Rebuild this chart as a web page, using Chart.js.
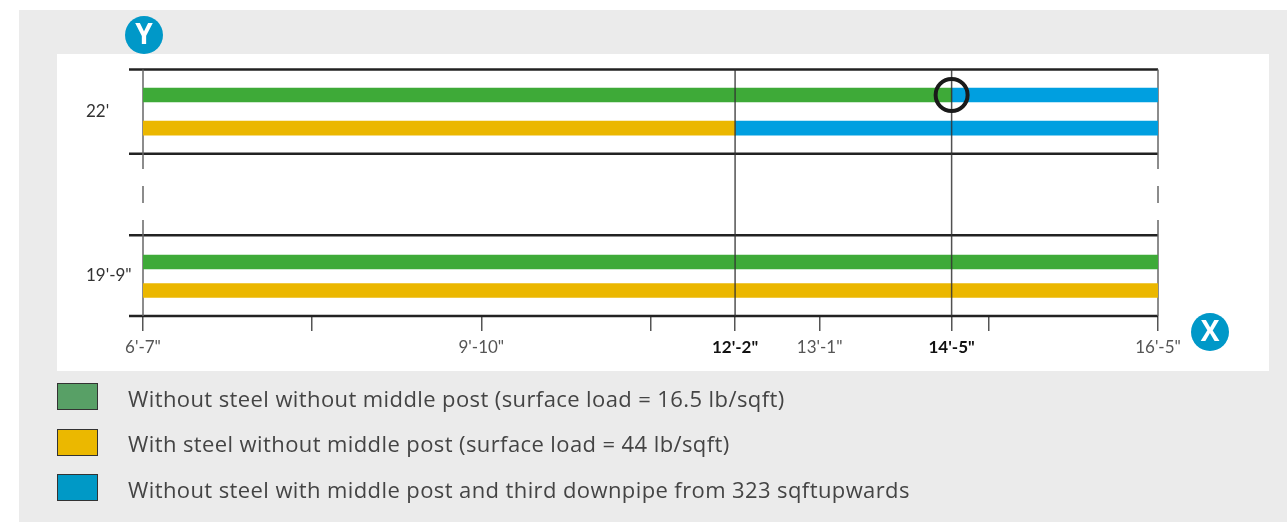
<!DOCTYPE html>
<html>
<head>
<meta charset="utf-8">
<script src="https://cdn.jsdelivr.net/npm/chart.js@4.4.1/dist/chart.umd.min.js"></script>
<style>
  body { margin: 0; background: #fff; font-family: Lato, "Open Sans", sans-serif; }
  #wrap { position: relative; width: 1287px; height: 523px; overflow: hidden; }
  .grey { position: absolute; left: 19px; top: 10px; width: 1280px; height: 512px; background: #ebebeb; }
  .panel { position: absolute; left: 57px; top: 54px; width: 1212px; height: 317px; background: #fff; }
  #chart { position: absolute; left: 0; top: 0; }
  #legend { position: absolute; left: 57px; top: 383px; }
  .item { display: flex; align-items: center; height: 27px; margin-bottom: 18.5px; }
  .box { width: 39px; height: 25px; border: 1.5px solid #333; margin-right: 30px; }
  .txt { font-family: "Open Sans", sans-serif; font-size: 22px; letter-spacing: 0.4px; color: #444; position: relative; top: 1px; }
</style>
</head>
<body>
<div id="wrap">
  <div class="grey"></div>
  <div class="panel"></div>
  <canvas id="chart" width="1287" height="523"></canvas>
  <div id="legend"></div>
</div>
<script>
// x in metres, y in row units (0 = bottom line)
const seriesNames = [
  "Without steel without middle post (surface load = 16.5 lb/sqft)",
  "With steel without middle post (surface load = 44 lb/sqft)",
  "Without steel with middle post and third downpipe from 323 sqftupwards"
];
const barColors = ["#3eaa38", "#ebb700", "#009fe0"];
const swatchColors = ["#58a066", "#ebb800", "#0099c6"];

// bar rows: 22' green, 22' yellow, 19'-9" green, 19'-9" yellow
const rowPos = [26, 22.1, 6.35, 3.0];
const greenBars = [[2.0, 4.39], null, [2.0, 5.0], null];
const yellowBars = [null, [2.0, 3.75], null, [2.0, 5.0]];
const blueBars = [[4.39, 5.0], [3.75, 5.0], null, null];

// sections (heights) and their labels
const sectionBounds = [[19.1, 29], [0, 9.5]];
const sectionLabels = ["22'", "19'-9\""];

// x ticks
const xTickValues = [2.0, 2.5, 3.0, 3.5, 3.75, 4.0, 4.39, 4.5, 5.0];
const xTickLabels = ["6'-7\"", "", "9'-10\"", "", "12'-2\"", "13'-1\"", "14'-5\"", "", "16'-5\""];
const xBold = [3.75, 4.39];

// broken edge lines (left and right) in y units
const edgeSegments = [[17.3, 29], [13.3, 15.3], [0, 11.3]];
// highlight circle
const markPoint = [{ x: 4.39, y: 26 }];

function toPoints(bars) {
  const pts = [];
  bars.forEach(function (b, i) {
    if (b) pts.push({ x: b, y: rowPos[i] });
  });
  return pts;
}

// legend
seriesNames.forEach(function (name, i) {
  const row = document.createElement("div");
  row.className = "item";
  const box = document.createElement("div");
  box.className = "box";
  box.style.background = swatchColors[i];
  const t = document.createElement("div");
  t.className = "txt";
  t.textContent = name;
  row.appendChild(box);
  row.appendChild(t);
  document.getElementById("legend").appendChild(row);
});

const linesPlugin = {
  id: "lines",
  beforeDatasetsDraw(chart) {
    const { ctx, chartArea, scales: { x, y } } = chart;
    ctx.save();
    // section lines
    ctx.strokeStyle = "#222";
    ctx.lineWidth = 2.5;
    sectionBounds.forEach(function (s) {
      s.forEach(function (v) {
        const py = y.getPixelForValue(v);
        ctx.beginPath();
        ctx.moveTo(chartArea.left - 14, py);
        ctx.lineTo(chartArea.right, py);
        ctx.stroke();
      });
    });
    // broken edges
    ctx.strokeStyle = "#666";
    ctx.lineWidth = 1.5;
    [x.min, x.max].forEach(function (v) {
      const px = x.getPixelForValue(v);
      edgeSegments.forEach(function (seg) {
        ctx.beginPath();
        ctx.moveTo(px, y.getPixelForValue(seg[0]));
        ctx.lineTo(px, y.getPixelForValue(seg[1]));
        ctx.stroke();
      });
    });
    ctx.restore();
  },
  beforeDatasetDraw(chart, args) {
    if (args.meta.type !== "scatter") return;
    const { ctx, chartArea, scales: { x } } = chart;
    ctx.save();
    ctx.strokeStyle = "rgba(50,50,50,0.85)";
    ctx.lineWidth = 1.5;
    xBold.forEach(function (v) {
      const px = x.getPixelForValue(v);
      ctx.beginPath();
      ctx.moveTo(px, chartArea.top);
      ctx.lineTo(px, chartArea.bottom);
      ctx.stroke();
    });
    ctx.restore();
  },
  afterDraw(chart) {
    const { ctx, chartArea } = chart;
    const badges = [
      { t: "Y", cx: chartArea.left + 1, cy: chartArea.top - 34.5 },
      { t: "X", cx: chartArea.right + 52, cy: chartArea.bottom + 16 }
    ];
    ctx.save();
    badges.forEach(function (b) {
      ctx.fillStyle = "#0098c8";
      ctx.beginPath();
      ctx.arc(b.cx, b.cy, 19, 0, Math.PI * 2);
      ctx.fill();
      ctx.fillStyle = "#fff";
      ctx.font = "bold 28px 'Open Sans', sans-serif";
      ctx.textAlign = "center";
      ctx.textBaseline = "middle";
      ctx.fillText(b.t, b.cx, b.cy + 1.5);
    });
    ctx.restore();
  }
};

new Chart(document.getElementById("chart"), {
  data: {
    datasets: [
      { type: "bar", label: seriesNames[0], data: toPoints(greenBars), backgroundColor: barColors[0] },
      { type: "bar", label: seriesNames[1], data: toPoints(yellowBars), backgroundColor: barColors[1] },
      { type: "bar", label: seriesNames[2], data: toPoints(blueBars), backgroundColor: barColors[2] },
      {
        type: "scatter", data: markPoint, order: 0,
        pointRadius: 16, pointBorderWidth: 4, pointBorderColor: "#1a1a1a",
        pointBackgroundColor: "rgba(0,0,0,0)"
      }
    ].map(function (d) {
      if (d.type === "bar") {
        d.indexAxis = "y";
        d.grouped = false;
        d.barThickness = 14;
        d.order = 1;
      }
      return d;
    })
  },
  options: {
    responsive: false,
    animation: false,
    layout: { padding: { left: 86, right: 129, top: 69.5, bottom: 167 } },
    plugins: { legend: { display: false }, tooltip: { enabled: false } },
    scales: {
      x: {
        type: "linear", min: 2.0, max: 5.0, offset: false,
        afterBuildTicks: function (s) { s.ticks = xTickValues.map(function (v) { return { value: v }; }); },
        afterFit: function (s) { s.height = 40; },
        border: { display: false },
        grid: { drawOnChartArea: false, drawTicks: true, tickLength: 15, color: "#555", lineWidth: 1.5, offset: false },
        ticks: {
          autoSkip: false, maxRotation: 0, padding: 6,
          callback: function (v, i) { return xTickLabels[i]; },
          color: function (c) { return xBold.indexOf(c.tick.value) >= 0 ? "#111" : "#555"; },
          font: function (c) {
            return xBold.indexOf(c.tick && c.tick.value) >= 0
              ? { family: "Lato", size: 17, weight: "bold" }
              : { family: "Lato", size: 17, weight: "normal" };
          }
        }
      },
      y: {
        type: "linear", min: 0, max: 29, offset: false,
        afterBuildTicks: function (s) {
          s.ticks = sectionBounds.map(function (b) { return { value: (b[0] + b[1]) / 2 }; });
        },
        afterFit: function (s) { s.width = 57; },
        border: { display: false },
        grid: { display: false, offset: false },
        ticks: {
          crossAlign: "far", padding: 0,
          callback: function (v, i) { return sectionLabels[i]; },
          color: "#333", font: { family: "Lato", size: 17 }
        }
      }
    }
  },
  plugins: [linesPlugin]
});
</script>
</body>
</html>
